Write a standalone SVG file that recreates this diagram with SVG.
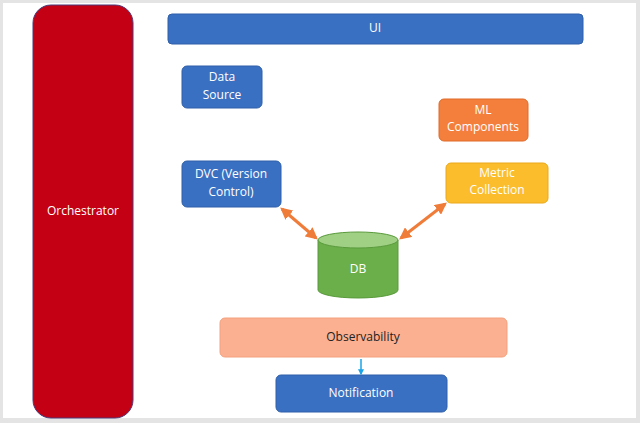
<svg xmlns="http://www.w3.org/2000/svg" width="640" height="423" viewBox="0 0 640 423">
<style>
text{font-family:"Open Sans","Liberation Sans",sans-serif;font-size:12px;text-anchor:middle;dominant-baseline:middle}
.w{fill:#fff}.blue{fill:#3a70c2;stroke:#2f5fa8;stroke-width:1}
</style>
<defs>
<marker id="oa" viewBox="0 0 10 10" refX="8" refY="5" markerWidth="4" markerHeight="4" orient="auto-start-reverse"><path d="M0,0L10,5L0,10z" fill="#f07c3a"/></marker>
<marker id="ba" viewBox="0 0 10 10" refX="8" refY="5" markerWidth="4" markerHeight="4" orient="auto"><path d="M0,0L10,5L0,10z" fill="#1aa3e8"/></marker>
</defs>
<rect width="640" height="423" fill="#e4e4e4"/>
<rect x="3" y="3" width="633" height="415" fill="#fff"/>
<g id="orchestrator"><rect x="33" y="5" width="100" height="413" rx="18" fill="#c40015" stroke="#4a3a7a"/><text x="83" y="212" class="w">Orchestrator</text></g>
<g id="ui"><rect x="168" y="14" width="415" height="30" rx="4" class="blue"/><text x="375" y="29" class="w">UI</text></g>
<g id="datasource"><rect x="182" y="66" width="80" height="42" rx="5" class="blue"/><text x="222" y="78" class="w">Data</text><text x="222" y="96" class="w">Source</text></g>
<g id="ml"><rect x="439" y="99" width="89" height="42" rx="5" fill="#f47f3c" stroke="#e06a28"/><text x="483" y="111" class="w">ML</text><text x="483" y="128" class="w">Components</text></g>
<g id="dvc"><rect x="182" y="161" width="99" height="46" rx="5" class="blue"/><text x="231" y="175" class="w">DVC (Version</text><text x="231" y="193" class="w">Control)</text></g>
<g id="metric"><rect x="446" y="163" width="102" height="40" rx="5" fill="#fbbd2c" stroke="#eaa81a"/><text x="497" y="174" class="w">Metric</text><text x="497" y="191" class="w">Collection</text></g>
<g id="db"><path d="M318,240 V290 A40,8 0 0 0 398,290 V240" fill="#6aaf4a" stroke="#5a9a3c"/><ellipse cx="358" cy="240" rx="40" ry="8" fill="#9fd084" stroke="#5a9a3c"/><text x="358" y="270" class="w">DB</text></g>
<g id="observability"><rect x="220" y="318" width="287" height="39" rx="5" fill="#fbb092" stroke="#f4a07c"/><text x="363" y="338" fill="#222">Observability</text></g>
<g id="notification"><rect x="276" y="375" width="171" height="37" rx="5" class="blue"/><text x="361" y="394" class="w">Notification</text></g>
<g id="connectors" stroke-width="3">
<line x1="282" y1="209" x2="316" y2="238" stroke="#f07c3a" marker-start="url(#oa)" marker-end="url(#oa)"/>
<line x1="445" y1="204" x2="401" y2="238" stroke="#f07c3a" marker-start="url(#oa)" marker-end="url(#oa)"/>
<line x1="361" y1="359" x2="361" y2="374" stroke="#1aa3e8" stroke-width="1.5" marker-end="url(#ba)"/>
</g>
</svg>
